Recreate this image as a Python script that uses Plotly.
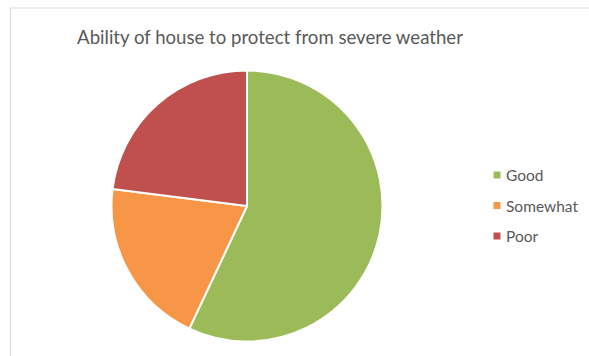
import plotly.graph_objects as go

# Survey responses
categories = ["Good", "Somewhat", "Poor"]
values = [57, 20, 23]
colors = ["#9BBB59", "#F79646", "#C0504D"]

W, H = 589, 356
cx, cy, r = 247, 206, 135.5

fig = go.Figure(
    go.Pie(
        labels=categories,
        values=values,
        sort=False,
        direction="clockwise",
        rotation=0,
        textinfo="none",
        hoverinfo="label+value+percent",
        marker=dict(colors=colors, line=dict(color="#FFFFFF", width=2)),
        domain=dict(
            x=[(cx - r) / W, (cx + r) / W],
            y=[1 - (cy + r) / H, 1 - (cy - r) / H],
        ),
        showlegend=False,
    )
)

# Chart-area frame
fig.add_shape(
    type="rect", xref="paper", yref="paper",
    x0=10.5 / W, x1=1.05, y0=-0.05, y1=1 - 8 / H,
    line=dict(color="#D9D9D9", width=1), fillcolor="rgba(0,0,0,0)", layer="below",
)

# Legend on the right
legend_x, legend_y0, legend_step = 497, 175, 30.5
for i, (name, col) in enumerate(zip(categories, colors)):
    y = legend_y0 + i * legend_step
    fig.add_shape(
        type="rect", xref="paper", yref="paper",
        x0=(legend_x - 3.5) / W, x1=(legend_x + 3.5) / W,
        y0=1 - (y + 3.5) / H, y1=1 - (y - 3.5) / H,
        line=dict(width=0), fillcolor=col,
    )
    fig.add_annotation(
        x=(legend_x + 7) / W, y=1 - y / H, xref="paper", yref="paper",
        text=name, showarrow=False, xanchor="left", yanchor="middle",
        font=dict(family="Lato", size=15.5, color="#595959"),
    )

fig.update_layout(
    width=W, height=H,
    margin=dict(l=0, r=0, t=0, b=0),
    paper_bgcolor="#FFFFFF",
    plot_bgcolor="#FFFFFF",
    title=dict(
        text="Ability of house to protect from severe weather",
        x=270 / W, xanchor="center", y=1 - 37 / H, yanchor="middle",
        font=dict(family="Lato", size=18.6, color="#595959"),
    ),
)

fig.write_html("out.html")
